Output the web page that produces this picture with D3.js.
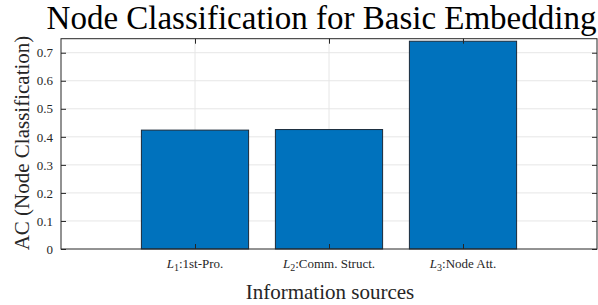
<!DOCTYPE html>
<html><head><meta charset="utf-8">
<script src="https://cdn.jsdelivr.net/npm/d3@7"></script>
<style>body{margin:0;background:#fff;} text{font-family:"Liberation Serif",serif;}</style>
</head><body>
<svg id="c" width="598" height="305"></svg>
<script>
const categories = [1, 2, 3];
const subscripts = ["1", "2", "3"];
const tickNames = [":1st-Pro.", ":Comm. Struct.", ":Node Att."];
const values = [0.424, 0.426, 0.741];
const yTicks = [0, 0.1, 0.2, 0.3, 0.4, 0.5, 0.6, 0.7];
const yTickLabels = ["0", "0.1", "0.2", "0.3", "0.4", "0.5", "0.6", "0.7"];

const FF = "Liberation Serif";
const svg = d3.select("#c");
const L = 61, R = 597, T = 38.7, B = 249;
const x = d3.scaleLinear().domain([0, 4]).range([L, R]);
const y = d3.scaleLinear().domain([0, 0.75]).range([B, T]);
const barW = (x(0.8) - x(0));

// grid
svg.append("g").selectAll("line").data(yTicks.slice(1)).join("line")
  .attr("x1", L).attr("x2", R).attr("y1", d => y(d)).attr("y2", d => y(d))
  .attr("stroke", "#e6e6e6").attr("stroke-width", 1);
svg.append("g").selectAll("line").data(categories).join("line")
  .attr("x1", d => x(d)).attr("x2", d => x(d)).attr("y1", T).attr("y2", B)
  .attr("stroke", "#e6e6e6").attr("stroke-width", 1);

// bars
svg.append("g").selectAll("rect").data(values).join("rect")
  .attr("x", (d, i) => x(categories[i]) - barW / 2)
  .attr("width", barW)
  .attr("y", d => y(d))
  .attr("height", d => B - y(d))
  .attr("fill", "#0072BD")
  .attr("stroke", "#1a2a3a").attr("stroke-width", 1);

// box
svg.append("rect").attr("x", L).attr("y", T).attr("width", R - L).attr("height", B - T)
  .attr("fill", "none").attr("stroke", "#262626").attr("stroke-width", 1);

// axes ticks (inside)
const tl = 5;
const axL = d3.axisLeft(y).tickValues(yTicks).tickSize(-tl).tickPadding(8)
  .tickFormat((d, i) => yTickLabels[i]);
const gL = svg.append("g").attr("transform", `translate(${L},0)`).call(axL);
gL.select(".domain").remove();
gL.selectAll("line").attr("stroke", "#262626");
gL.selectAll("text").attr("font-size", 13).attr("fill", "#262626").attr("font-family", FF);

const axR = d3.axisRight(y).tickValues(yTicks).tickSize(-tl).tickFormat("");
const gR = svg.append("g").attr("transform", `translate(${R},0)`).call(axR);
gR.select(".domain").remove();
gR.selectAll("line").attr("stroke", "#262626");

const axB = d3.axisBottom(x).tickValues(categories).tickSize(-tl).tickFormat("");
const gB = svg.append("g").attr("transform", `translate(0,${B})`).call(axB);
gB.select(".domain").remove();
gB.selectAll("line").attr("stroke", "#262626");
const axT = d3.axisTop(x).tickValues(categories).tickSize(-tl).tickFormat("");
const gT = svg.append("g").attr("transform", `translate(0,${T})`).call(axT);
gT.select(".domain").remove();
gT.selectAll("line").attr("stroke", "#262626");

// x tick labels
const xl = svg.append("g").selectAll("text").data(categories).join("text")
  .attr("x", d => x(d)).attr("y", 268).attr("text-anchor", "middle")
  .attr("font-family", FF).attr("font-size", 13).attr("fill", "#262626");
xl.append("tspan").attr("font-style", "italic").text("L");
xl.append("tspan").attr("font-size", 10).attr("dy", 3).text((d, i) => subscripts[i]);
xl.append("tspan").attr("dy", -3).text((d, i) => tickNames[i]);

// title
svg.append("text").attr("x", 321.5).attr("y", 29).attr("text-anchor", "middle")
  .attr("font-family", FF).attr("font-size", 33).attr("fill", "#000").text("Node Classification for Basic Embedding");
// x label
svg.append("text").attr("x", 330).attr("y", 299).attr("text-anchor", "middle")
  .attr("font-family", FF).attr("font-size", 21).attr("fill", "#262626").text("Information sources");
// y label
svg.append("text").attr("transform", "translate(29,143) rotate(-90)").attr("text-anchor", "middle")
  .attr("font-family", FF).attr("font-size", 21).attr("fill", "#262626").text("AC (Node Classification)");
</script>
</body></html>
